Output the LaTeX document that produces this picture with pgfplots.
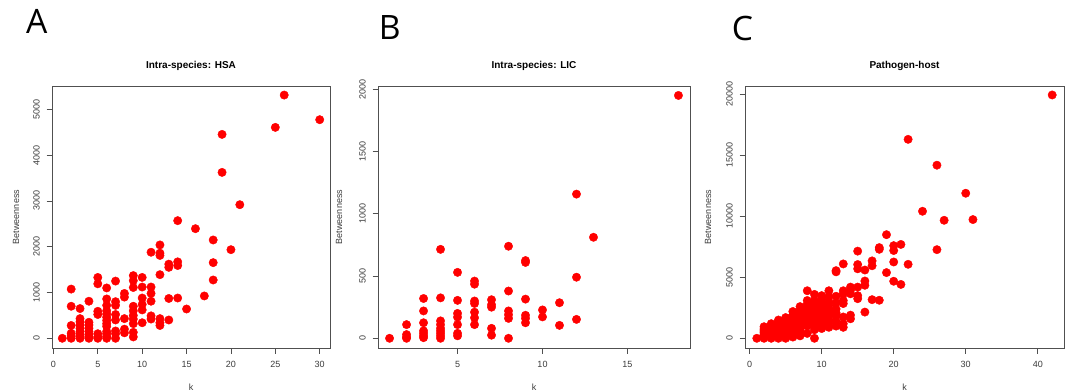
\documentclass[border=0pt]{standalone}
\usepackage{fontspec}
\setmainfont{Liberation Sans}
\newfontfamily\letterfont{Open Sans}
\usepackage{pgfplots}
\pgfplotsset{compat=1.18}
\definecolor{boxc}{RGB}{80,80,80}
\definecolor{txtc}{RGB}{60,60,60}
\pgfplotsset{rstyle/.style={
  scale only axis, height=262pt,
  axis line style={boxc, line width=0.8pt},
  tick style={boxc, line width=0.8pt},
  tick align=outside, major tick length=5.5pt,
  tick pos=left,
  scaled ticks=false,
  /pgf/number format/set thousands separator={},
  /pgf/number format/assume math mode=true,
  ticklabel style={font=\fontsize{9}{10}\selectfont, text=txtc},
  yticklabel style={rotate=90, anchor=south, inner sep=0pt},
  xticklabel style={anchor=north, inner sep=0pt},
  xticklabel shift=7.5pt, yticklabel shift=6.6pt,
  title style={at={(axis description cs:0.5,1)}, anchor=base, yshift=11.5pt, inner sep=0pt, font=\bfseries\fontsize{10}{12}\selectfont},
  xlabel style={at={(axis description cs:0.5,0)}, anchor=base, yshift=-42pt, inner sep=0pt, font=\fontsize{9}{10}\selectfont, text=txtc},
  xlabel={k}, ylabel={Betweenness},
  clip=false,
}}
\pgfplotsset{pt/.style={only marks, mark=*, color=red, mark size=4.2pt, mark options={draw=red, fill=red}}}
\begin{document}
\begin{tikzpicture}
\useasboundingbox (0,0) rectangle (1070pt,391pt);
\fill[white] (0,0) rectangle (1070pt,391pt);
\node[anchor=base west, inner sep=0pt, font=\letterfont\fontsize{33.6}{36}\selectfont] at (26pt,357pt) {A};
\node[anchor=base west, inner sep=0pt, font=\letterfont\fontsize{33.6}{36}\selectfont] at (378.7pt,351pt) {B};
\node[anchor=base west, inner sep=0pt, font=\letterfont\fontsize{33.6}{36}\selectfont] at (731.6pt,350.5pt) {C};

% Panel A
\begin{axis}[rstyle, at={(52pt,43pt)}, anchor=south west, width=278pt,
  xmin=-0.16, xmax=31.16, ymin=-212, ymax=5512,
  xtick={0,5,...,30}, ytick={0,1000,...,5000},
  title={Intra-species: HSA},
  ylabel style={at={([xshift=-36pt]axis description cs:0,0.5)}, anchor=center, inner sep=0pt, font=\fontsize{9}{10}\selectfont, text=txtc}]
\addplot[pt] table {
k B
1 0
2 1075
2 700
2 280
2 110
2 50
2 0
3 650
3 430
3 360
3 290
3 220
3 150
3 90
3 40
3 0
4 810
4 350
4 290
4 220
4 150
4 80
4 30
4 0
5 1330
5 1190
5 590
5 520
5 100
5 30
5 0
6 1100
6 860
6 720
6 600
6 530
6 460
6 390
6 320
6 260
6 150
6 100
6 40
6 0
7 1250
7 800
7 720
7 520
7 400
7 160
7 100
7 0
8 980
8 900
8 430
8 200
8 120
9 1370
9 1260
9 1110
9 700
9 600
9 500
9 420
9 320
9 130
9 30
10 1330
10 1120
10 880
10 740
10 620
10 340
11 1880
11 1120
11 980
11 810
11 490
11 420
12 2040
12 1860
12 1810
12 1390
12 430
12 340
12 280
13 1620
13 1550
13 870
13 400
14 2570
14 1670
14 1590
14 880
15 640
16 2395
17 925
18 2148
18 1653
18 1274
19 4455
19 3625
20 1936
21 2919
25 4608
26 5314
30 4776
};
\end{axis}

% Panel B
\begin{axis}[rstyle, at={(378pt,43pt)}, anchor=south west, width=312pt,
  xmin=0.32, xmax=18.68, ymin=-78, ymax=2028,
  xtick={5,10,15}, ytick={0,500,...,2000},
  title={Intra-species: LIC},
  ylabel style={at={([xshift=-39pt]axis description cs:0,0.5)}, anchor=center, inner sep=0pt, font=\fontsize{9}{10}\selectfont, text=txtc}]
\addplot[pt] table {
k B
1 0
2 110
2 30
2 10
2 0
3 320
3 220
3 125
3 60
3 40
3 20
3 5
4 715
4 325
4 140
4 110
4 80
4 60
4 40
4 20
4 0
5 530
5 305
5 200
5 170
5 110
5 40
5 20
6 460
6 435
6 300
6 280
6 210
6 165
6 110
7 310
7 270
7 250
7 80
7 25
8 740
8 380
8 220
8 190
8 160
8 0
9 625
9 610
9 315
9 185
9 160
9 125
10 228
10 172
11 286
11 104
12 1159
12 491
12 152
13 812
18 1952
};
\end{axis}

% Panel C
\begin{axis}[rstyle, at={(745pt,43pt)}, anchor=south west, width=319pt,
  xmin=-0.64, xmax=43.64, ymin=-796, ymax=20696,
  xtick={0,10,...,40}, ytick={0,5000,...,20000},
  title={Pathogen-host},
  ylabel style={at={([xshift=-37pt]axis description cs:0,0.5)}, anchor=center, inner sep=0pt, font=\fontsize{9}{10}\selectfont, text=txtc}]
\addplot[pt] table {
k B
1 0
2 0
2 150
2 300
2 450
2 600
2 750
2 950
3 0
3 150
3 300
3 450
3 600
3 800
3 1000
3 1200
4 0
4 150
4 350
4 550
4 750
4 950
4 1150
4 1350
4 1500
5 0
5 200
5 400
5 600
5 800
5 1000
5 1200
5 1400
5 1700
6 100
6 300
6 500
6 700
6 900
6 1100
6 1300
6 1500
6 1700
6 1900
6 2200
7 200
7 400
7 600
7 800
7 1000
7 1200
7 1400
7 1600
7 1800
7 2000
7 2300
7 2600
8 400
8 1000
8 1300
8 1500
8 1800
8 2000
8 2300
8 2500
8 2800
8 3100
8 3900
9 0
9 700
9 1000
9 1300
9 1600
9 1900
9 2200
9 2500
9 2800
9 3100
9 3600
10 800
10 1100
10 1400
10 1700
10 2000
10 2300
10 2600
10 2900
10 3200
10 3500
11 900
11 1200
11 1500
11 1800
11 2100
11 2400
11 2700
11 3000
11 3400
11 3900
12 5550
12 5450
12 3450
12 2900
12 2400
12 2100
12 1850
12 1400
12 1000
13 6100
13 3900
13 3650
13 3100
13 2850
13 1750
13 1200
13 900
14 4200
14 3950
14 3650
14 1900
14 1600
15 7150
15 6050
15 5700
15 4200
15 3500
15 3250
16 5600
16 4700
16 4350
16 2150
17 6350
17 5950
17 3170
18 7440
18 7300
18 3120
19 8500
19 5390
20 7600
20 7200
20 6260
20 4680
21 7700
21 4420
22 16320
22 6070
24 10420
26 14200
26 7270
27 9680
30 11900
31 9740
42 19960
};
\end{axis}
\end{tikzpicture}
\end{document}
